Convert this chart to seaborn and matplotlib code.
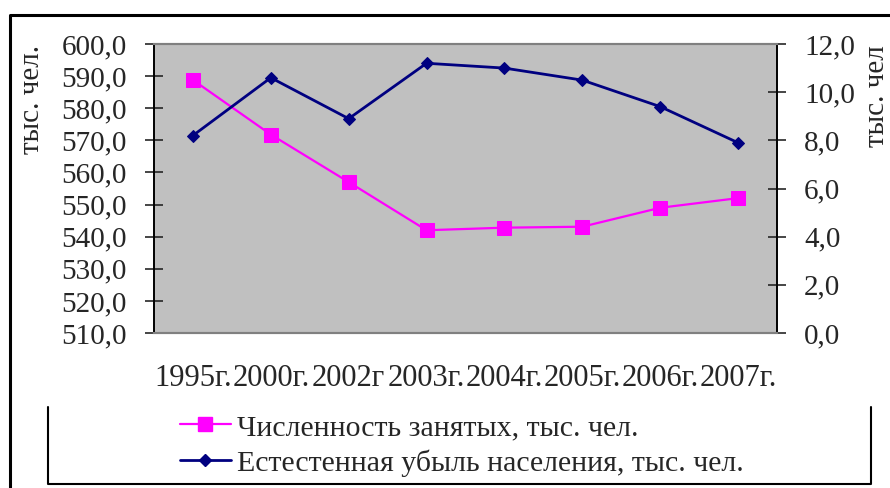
import numpy as np
import matplotlib
matplotlib.use('Agg')
import matplotlib.pyplot as plt
import seaborn as sns
from matplotlib.lines import Line2D
from matplotlib.ticker import FixedLocator, FuncFormatter

# данные с графика
years = ["1995г.", "2000г.", "2002г", "2003г.", "2004г.", "2005г.", "2006г.", "2007г."]
employed = [588.8, 571.8, 557.0, 542.0, 542.8, 543.1, 549.0, 552.0]
decline = [8.2, 10.6, 8.9, 11.2, 11.0, 10.5, 9.4, 7.9]

label_employed = "Численность занятых, тыс. чел."
label_decline = "Естестенная убыль населения, тыс. чел."

sns.set_style("white")
plt.rcParams['font.family'] = ['Liberation Serif', 'DejaVu Serif']
FS = 21

fig = plt.figure(figsize=(8.9, 4.88), dpi=100)
W, H = 890, 488
ax = fig.add_axes([154 / W, 1 - 333 / H, 623 / W, 289 / H])
ax.set_facecolor('#c0c0c0')
ax2 = ax.twinx()

x = np.arange(len(years))
sns.lineplot(x=x, y=employed, ax=ax, color='#ff00ff', lw=1.6, marker='s',
             markersize=9.5, markeredgecolor='#ff00ff')
sns.lineplot(x=x, y=decline, ax=ax2, color='#000080', lw=2, marker='D',
             markersize=6.5, markeredgecolor='#000080')

fmt = FuncFormatter(lambda v, p: f"{v:.1f}".replace('.', ','))

ax.set_xlim(-0.5, len(years) - 0.5)
ax.set_ylim(510, 600)
ax.set_yticks(np.arange(510, 601, 10))
ax.yaxis.set_major_formatter(fmt)
ax2.set_ylim(0, 12)
ax2.set_yticks(np.arange(0, 12.1, 2))
ax2.yaxis.set_major_formatter(fmt)

ax.set_xticks(x)
ax.set_xticklabels(years)
ax.xaxis.set_minor_locator(FixedLocator(np.arange(-0.5, len(years), 1)))
ax.tick_params(axis='x', which='major', length=0, pad=22, labelsize=22)
ax.tick_params(axis='x', which='minor', direction='inout', length=10, width=1.2, color='black')
ax.tick_params(axis='y', direction='inout', length=13, width=1.2, pad=13,
               labelsize=FS, left=True)
ax2.tick_params(axis='y', direction='inout', length=13, width=1.2, pad=13,
                labelsize=FS, right=True)

for a in (ax, ax2):
    a.set_xlabel('')
    a.set_ylabel('')
    for s in ('top', 'bottom'):
        a.spines[s].set_color('#808080')
        a.spines[s].set_linewidth(1.5)
    for s in ('left', 'right'):
        a.spines[s].set_color('black')
        a.spines[s].set_linewidth(1.2)

fig.text(32 / W, 1 - 45 / H, "тыс. чел.", rotation=90, fontsize=FS,
         ha='center', va='top')
fig.text(877 / W, 1 - 45 / H, "тыс. чел", rotation=90, fontsize=FS,
         ha='center', va='top')

handles = [
    Line2D([], [], color='#ff00ff', lw=1.6, marker='s', markersize=9.5),
    Line2D([], [], color='#000080', lw=2, marker='D', markersize=6.5),
]
fig.legend(handles, [label_employed, label_decline], loc='upper left',
           bbox_to_anchor=(180 / W, 1 - 414 / H), frameon=False, fontsize=21.5,
           handlelength=1.7, handletextpad=0.2, labelspacing=0.28,
           borderpad=0, borderaxespad=0)

# рамки
def fline(xs, ys, lw):
    fig.add_artist(Line2D([v / W for v in xs], [1 - v / H for v in ys],
                          color='black', lw=lw, transform=fig.transFigure))

fline([10, 10, 900], [500, 15, 15], 2.2)
fline([48, 48, 871, 871], [407, 484, 484, 407], 1.5)

fig.savefig('out.png', dpi=100)
